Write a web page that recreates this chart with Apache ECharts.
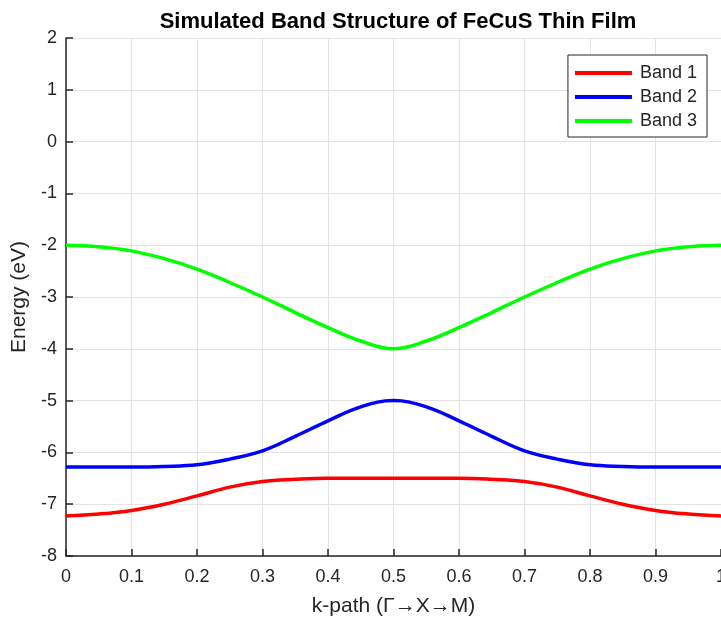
<!DOCTYPE html>
<html>
<head>
<meta charset="utf-8">
<script src="https://cdn.jsdelivr.net/npm/echarts@6/dist/echarts.min.js"></script>
<style>
  html, body { margin: 0; padding: 0; background: #fff; }
  #main { width: 721px; height: 618px; }
</style>
</head>
<body>
<div id="main"></div>
<script>
// k-path positions
var kPath = [0, 0.05, 0.1, 0.15, 0.2, 0.25, 0.3, 0.35, 0.4, 0.45, 0.5,
  0.55, 0.6, 0.65, 0.7, 0.75, 0.8, 0.85, 0.9, 0.95, 1];

// energies (eV)
var band1 = [-7.23, -7.19, -7.12, -7.0, -6.84, -6.67, -6.56, -6.52, -6.5, -6.5, -6.5,
  -6.5, -6.5, -6.52, -6.56, -6.67, -6.84, -7.0, -7.12, -7.19, -7.23];
var band2 = [-6.28, -6.28, -6.28, -6.27, -6.24, -6.13, -5.97, -5.69, -5.39, -5.12, -5.0,
  -5.12, -5.39, -5.69, -5.97, -6.13, -6.24, -6.27, -6.28, -6.28, -6.28];
var band3 = [-2.0, -2.03, -2.11, -2.26, -2.46, -2.72, -3.0, -3.3, -3.59, -3.85, -4.0,
  -3.85, -3.59, -3.3, -3.0, -2.72, -2.46, -2.26, -2.11, -2.03, -2.0];

var bandNames = ['Band 1', 'Band 2', 'Band 3'];
var bandColors = ['#ff0000', '#0000ff', '#00ff00'];

function pairs(ys) {
  return kPath.map(function (x, i) { return [x, ys[i]]; });
}

var textColor = '#262626';
var font = 'Liberation Sans, Arial, sans-serif';

var chart = echarts.init(document.getElementById('main'));

var option = {
  animation: false,
  textStyle: { fontFamily: font },
  title: {
    text: 'Simulated Band Structure of FeCuS Thin Film',
    left: 393,
    textAlign: 'center',
    top: 6,
    textStyle: { fontSize: 22, fontWeight: 'bold', color: '#000', fontFamily: font }
  },
  legend: {
    orient: 'vertical',
    right: 14,
    top: 55,
    padding: [9, 10, 7, 7],
    itemGap: 6,
    itemWidth: 57,
    itemHeight: 4,
    icon: 'rect',
    backgroundColor: '#fff',
    borderColor: '#262626',
    borderWidth: 1,
    borderRadius: 0,
    textStyle: { fontSize: 18, lineHeight: 18, color: textColor, fontFamily: font, padding: [0, 0, 0, 3] },
    data: bandNames
  },
  grid: { left: 66, right: 0, top: 38, bottom: 62, outerBoundsMode: 'none', containLabel: false },
  xAxis: {
    type: 'value',
    min: 0,
    max: 1,
    interval: 0.1,
    name: 'k-path (\u0393\u2192X\u2192M)',
    nameLocation: 'middle',
    nameGap: 40,
    nameTextStyle: { fontSize: 21, color: textColor },
    axisLine: { onZero: false, lineStyle: { color: textColor, width: 1.5 } },
    axisTick: { inside: true, length: 7, lineStyle: { color: textColor, width: 1.5 } },
    axisLabel: {
      fontSize: 18, color: textColor, margin: 12,
      formatter: function (v) { return String(+v.toFixed(1)); }
    },
    splitLine: { show: true, lineStyle: { color: '#e3e3e3', width: 1 } }
  },
  yAxis: {
    type: 'value',
    min: -8,
    max: 2,
    interval: 1,
    name: 'Energy (eV)',
    nameLocation: 'middle',
    nameGap: 33,
    nameTextStyle: { fontSize: 21, color: textColor },
    axisLine: { show: true, onZero: false, lineStyle: { color: textColor, width: 1.5 } },
    axisTick: { show: true, inside: true, length: 7, lineStyle: { color: textColor, width: 1.5 } },
    axisLabel: { fontSize: 18, color: textColor, margin: 9 },
    splitLine: { show: true, lineStyle: { color: '#e3e3e3', width: 1 } }
  },
  series: [band1, band2, band3].map(function (b, i) {
    return {
      name: bandNames[i],
      type: 'line',
      data: pairs(b),
      smooth: 0.4,
      showSymbol: false,
      symbol: 'none',
      color: bandColors[i],
      lineStyle: { width: 3.5, color: bandColors[i] }
    };
  })
};

chart.setOption(option);
</script>
</body>
</html>
